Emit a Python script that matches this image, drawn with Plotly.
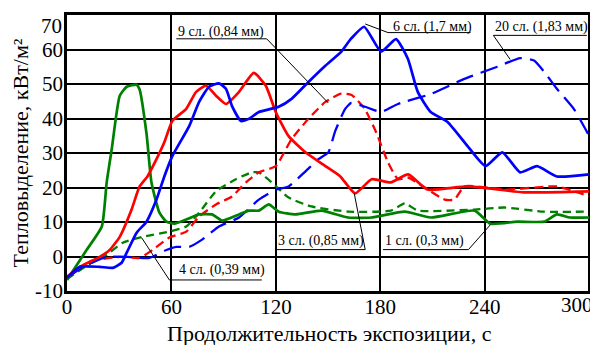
import plotly.graph_objects as go

# 1 сл. (0,3 мм) – green solid
t_1 = [0, 11.4, 20, 22.8, 25.7, 30.3, 34.3, 40, 41.7, 45.7, 48.5, 53.1, 57.1, 61.7, 68.5, 75.9, 83.3, 89.1,
       98.8, 104.5, 110.2, 115.9, 121.6, 131.3, 146.1, 161.6, 174.7, 194.1, 208.9, 234.1, 243.2, 258.6, 274,
       281.4, 288.9, 300]
v_1 = [-6.8, 2.0, 8.7, 21.5, 31.1, 46.6, 49.2, 49.8, 48.4, 35.5, 21.5, 12.7, 10.1, 9.5, 10.7, 12.2, 12.2, 10.4,
       12.2, 13.3, 13.3, 15.1, 13.0, 12.2, 13.3, 11.3, 11.3, 13.0, 11.3, 13.3, 9.5, 10.1, 10.1,
       12.2, 11.3, 11.3]

# 4 сл. (0,39 мм) – green dashed
t_4 = [0, 13.1, 22.8, 32, 43.4, 58.8, 68.5, 75.9, 85.6, 97, 106.2, 110.2, 117.6, 127.3, 140.4, 161.6, 186.1,
       194.1, 201.5, 234.1, 251.2, 274, 300]
v_4 = [-6.5, -2.1, 0.5, 4.0, 5.7, 7.2, 8.7, 12.7, 18.9, 22.4, 24.4, 24.4, 21.5, 17.1, 14.5, 13.0, 13.3,
       15.4, 13.3, 13.6, 14.2, 13.0, 13.0]

# 3 сл. (0,85 мм) – red solid
t_3 = [0, 7.4, 18.8, 24.5, 30.3, 37.1, 41.7, 46.2, 51.4, 55.9, 60.5, 68.5, 74.2, 79.9, 85.6, 91.3, 98.8,
       107.3, 114.2, 119.9, 127.3, 137, 148.4, 157, 165.5, 175, 186, 196, 207, 230.1, 262.6, 300]
v_3 = [-5.9, -3.0, -0.1, 1.9, 5.7, 13.6, 20.3, 23.2, 28.2, 33.1, 39.3, 42.8, 47.7, 49.5, 46.6, 44.2, 47.7,
       53.2, 49.5, 41.9, 34.9, 30.2, 26.2, 23.2, 18.3, 22.4, 21.5, 23.8, 19.4, 20.3, 18.6, 18.9]

# 9 сл. (0,84 мм) – red dashed
t_9 = [0, 13.1, 30.3, 41.7, 49.1, 58.8, 68.5, 75.9, 85.6, 94.8, 102.8, 110.2, 119.9, 129, 138.7, 148.4,
       157.5, 163.5, 171, 177.5, 184.4, 190.1, 195.8, 205.5, 216.9, 222.6, 228.3, 252.9, 281.4, 300]
v_9 = [-6.2, -1.5, -0.1, -0.4, 1.9, 5.5, 7.2, 11.6, 15.1, 17.4, 21.5, 24.4, 26.2, 34.0, 39.9, 44.8,
       47.2, 46.8, 42.8, 36.1, 27.3, 22.4, 22.9, 20.0, 16.5, 16.5, 20.3, 19.4, 20.3, 17.4]

# 6 сл. (1,7 мм) – blue solid
t_6 = [0, 7.4, 18.8, 26.3, 31.4, 34.3, 40, 45.7, 51.4, 55.9, 60.5, 70.2, 75.9, 81.6, 87.3, 91.3, 94.8, 99.9,
       104.5, 110.2, 121.6, 129, 138.7, 148.4, 157.6, 163.3, 170.7, 180.4, 189, 195.8, 201.5, 208.9,
       218.6, 230.1, 240.4, 250, 260.3, 270, 281.4, 300]
v_6 = [-6.2, -3.0, -3.0, -3.3, -1.8, 1.1, 6.9, 10.1, 16.5, 23.2, 29.1, 37.8, 44.8, 49.2, 50.2, 48.6, 43.6, 39.3,
       39.9, 41.9, 43.4, 45.7, 50.6, 55.3, 59.4, 63.2, 66.6, 59.4, 63.0, 57.3, 47.7, 41.9,
       39.0, 32.0, 26.2, 30.2, 24.4, 26.2, 23.2, 23.8]

# 20 сл. (1,83 мм) – blue dashed
t_20 = [0, 10.3, 22.8, 34.3, 47.4, 57.1, 62.8, 70.2, 77.6, 87.3, 98.8, 110.2, 119.9, 127.3, 137, 144.4, 150.1,
        154.1, 159.8, 163.3, 171.3, 180.4, 190.1, 208.9, 228.3, 247.2, 260.3, 268.3, 274, 281.4, 291.1, 300]
v_20 = [-6.2, -2.7, -0.1, -0.1, -0.4, 1.9, 2.8, 2.8, 4.9, 8.7, 11.3, 16.5, 19.4, 20.3, 24.7, 28.2, 30.2,
        36.4, 42.8, 44.5, 43.4, 41.9, 44.2, 47.1, 51.5, 55.0, 57.5, 56.8, 53.6, 48.6, 42.8, 34.9]

x_ticks = [0, 60, 120, 180, 240, 300]
x_tick_text = ["0", "60", "120", "180", "240", "300"]
y_ticks = [-10, 0, 10, 20, 30, 40, 50, 60, 70]
y_tick_text = ["-10", "0", "10", "20", "30", "40", "50", "60", "70"]
x_title = "Продолжительность экспозиции, с"
y_title = "Тепловыделение, кВт/м²"

label_texts = ["9 сл. (0,84 мм)", "6 сл. (1,7 мм)", "20 сл. (1,83 мм)",
               "3 сл. (0,85 мм)", "1 сл. (0,3 мм)", "4 сл. (0,39 мм)"]
label_pos = [(62.8, 65.2), (186.1, 66.6), (244.9, 66.6), (119.9, 4.6), (181.5, 4.6), (63.4, -3.9)]
underline = [(62.8, 114.7, 63.1), (184.4, 231.8, 64.9), (244.9, 298.6, 64.1),
             (119.9, 171.3, 2.0), (181.5, 230.6, 2.0), (58.8, 111.9, -6.8)]
leader = [((114.7, 63.1), (150.1, 44.5)), ((184.4, 64.9), (171.3, 67.4)), ((244.9, 64.1), (254.6, 57.1)),
          ((171.3, 2.0), (165.0, 18.3)), ((230.6, 2.0), (243.2, 9.2)), ((58.8, -6.8), (42.8, 5.5))]

GREEN = "#008000"
RED = "#ff0000"
BLUE = "#0000ff"
SERIF = "Liberation Serif"

fig = go.Figure()
series = [
    (t_4, v_4, GREEN, "8px,5px"),
    (t_9, v_9, RED, "9px,5px"),
    (t_20, v_20, BLUE, "18px,8px"),
    (t_1, v_1, GREEN, "solid"),
    (t_3, v_3, RED, "solid"),
    (t_6, v_6, BLUE, "solid"),
]
for t, v, c, d in series:
    fig.add_trace(go.Scatter(x=t, y=v, mode="lines",
                             line=dict(color=c, width=2.7 if d == "solid" else 2.3, dash=d,
                                       shape="spline", smoothing=0.5),
                             showlegend=False, hoverinfo="skip"))

shapes = []
for (x0, x1, y) in underline:
    shapes.append(dict(type="line", x0=x0, x1=x1, y0=y, y1=y, xref="x", yref="y",
                       line=dict(color="black", width=1)))
for (p0, p1) in leader:
    shapes.append(dict(type="line", x0=p0[0], y0=p0[1], x1=p1[0], y1=p1[1], xref="x", yref="y",
                       line=dict(color="black", width=1)))

annotations = []
for txt, (x, y) in zip(label_texts, label_pos):
    annotations.append(dict(x=x, y=y, xref="x", yref="y", text=txt, showarrow=False,
                            xanchor="left", yanchor="middle",
                            font=dict(family=SERIF, size=14, color="black")))

# edge tick labels are nudged inside the image, as in the reference
annotations.append(dict(x=0, y=y_ticks[-1], xref="paper", yref="y", text=y_tick_text[-1], showarrow=False,
                        xanchor="right", yanchor="top", xshift=-3, yshift=3,
                        font=dict(family=SERIF, size=21, color="black")))
annotations.append(dict(x=1, y=0, xref="paper", yref="paper", text=x_tick_text[-1], showarrow=False,
                        xanchor="right", yanchor="top", xshift=4, yshift=0,
                        font=dict(family=SERIF, size=21, color="black")))
# x-axis title
annotations.append(dict(x=0.5, y=0, xref="paper", yref="paper", text=x_title, showarrow=False,
                        xanchor="center", yanchor="middle", yshift=-42,
                        font=dict(family=SERIF, size=22, color="black")))

# the page body has an 8px default margin, so the figure is 8px smaller
fig.update_layout(
    width=590, height=337,
    margin=dict(l=59, r=4, t=7, b=54),
    paper_bgcolor="white", plot_bgcolor="white",
    font=dict(family=SERIF, color="black"),
    shapes=shapes, annotations=annotations,
)
fig.update_xaxes(range=[0, 301], tickvals=x_ticks, ticktext=x_tick_text[:-1] + [""],
                 showgrid=True, gridcolor="black", gridwidth=2,
                 zeroline=False, showline=True, linecolor="black", linewidth=2.5, mirror=True,
                 tickfont=dict(family=SERIF, size=21), ticks="", ticklabelstandoff=-5)
fig.update_yaxes(range=[-10, 70], tickvals=y_ticks, ticktext=y_tick_text[:-1] + [""], showgrid=True,
                 gridcolor="black", gridwidth=2, zeroline=False, showline=True, linecolor="black",
                 linewidth=2.5, mirror=True, tickfont=dict(family=SERIF, size=21), ticks="",
                 ticklabelstandoff=-3,
                 title=dict(text=y_title, font=dict(family=SERIF, size=22), standoff=2))

fig.write_html("out.html")
